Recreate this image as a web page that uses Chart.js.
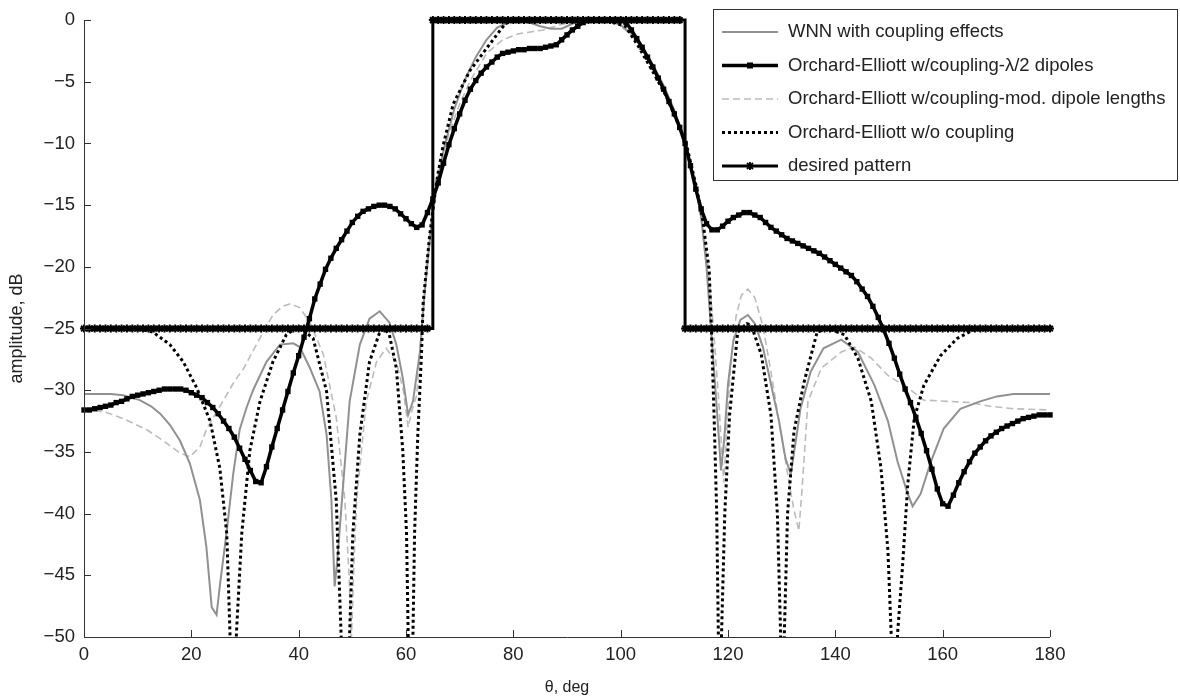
<!DOCTYPE html>
<html>
<head>
<meta charset="utf-8">
<script src="https://cdn.jsdelivr.net/npm/chart.js@4.4.0/dist/chart.umd.min.js"></script>
<style>
  body { margin: 0; background: #fff; }
</style>
</head>
<body>
<canvas id="chart" width="1180" height="697"></canvas>
<script>
// theta grid for the two curves that were sampled every degree
const thetaGrid = Array.from({ length: 181 }, (_, i) => i);

const xTicks = [0, 20, 40, 60, 80, 100, 120, 140, 160, 180];
const yTicks = [0, -5, -10, -15, -20, -25, -30, -35, -40, -45, -50];

// WNN with coupling effects
const wnnX = [0,5,7.3,10.4,12.5,14.2,16,17.9,19.7,21.6,22.8,23.8,24.7,25.3,26.6,27.8,29,30.3,31.5,34,
  36.5,39,40.2,42.1,43.9,45.2,46.1,46.7,47.2,48.3,49.5,51.4,53.2,55.1,56.9,58.2,59.4,60.4,61.3,62.6,
  63.5,64.5,65.5,67,69,71,73,75,77,79,81,83,85,87,89,91,93,96,98,100,
  102,104,106,108,110,112,113.5,115,116,117,118,118.7,119.3,120,121,122.3,123.7,125,126.5,128,
  129.5,130.7,131.7,132.5,133.5,135.4,137.8,141.1,144.2,147.3,149.8,151.6,153.5,154.4,155.9,157.8,160.2,163.3,167,170.1,
  173.2,180];
const wnnY = [-30.3,-30.3,-30.4,-30.8,-31.3,-31.9,-32.8,-34.1,-35.9,-38.9,-42.7,-47.6,-48.2,-45.9,-41.4,-36.8,-33.2,-31.4,-30.0,-27.7,
  -26.3,-26.2,-26.5,-28.2,-30.1,-33.6,-38.9,-45.9,-43.8,-37.6,-30.9,-26.3,-24.2,-23.6,-24.5,-26.3,-29.0,-32.0,-30.9,-26.9,
  -22,-17.5,-13.8,-10.5,-7.2,-4.8,-3.0,-1.6,-0.6,-0.2,-0.1,-0.2,-0.5,-0.7,-0.7,-0.3,0,0,0,-0.4,
  -1.1,-2.2,-3.6,-5.3,-7.3,-9.8,-12.5,-16,-20,-26,-32,-36.5,-34,-29.5,-26,-24.3,-23.9,-24.6,-26.5,-29.5,
  -32.5,-35.5,-36.8,-34.5,-31.5,-28.5,-26.6,-25.9,-26.9,-29.6,-32.5,-35.8,-38.4,-39.4,-38.4,-35.8,-33.1,-31.5,-30.9,-30.5,
  -30.3,-30.3];

// Orchard-Elliott w/coupling, lambda/2 dipoles (one value per degree, 0..180)
const halfWaveY = [
  -31.6,-31.6,-31.5,-31.4,-31.3,-31.2,-31.0,-30.9,-30.7,-30.5,
  -30.4,-30.3,-30.2,-30.1,-30.0,-29.9,-29.9,-29.9,-29.9,-30.0,
  -30.2,-30.4,-30.6,-31.0,-31.4,-31.9,-32.5,-33.1,-33.8,-34.7,
  -35.6,-36.5,-37.4,-37.5,-36.2,-34.6,-33.1,-31.6,-30.1,-28.6,
  -27.2,-25.7,-24.2,-22.6,-21.4,-20.2,-19.3,-18.5,-17.8,-17.1,
  -16.4,-15.9,-15.5,-15.3,-15.1,-15.0,-15.0,-15.1,-15.3,-15.7,
  -16.1,-16.5,-16.8,-16.6,-15.6,-14.5,-13.2,-11.6,-10.1,-8.8,
  -7.6,-6.5,-5.6,-4.9,-4.3,-3.8,-3.4,-3.0,-2.7,-2.6,
  -2.5,-2.4,-2.4,-2.3,-2.3,-2.3,-2.2,-2.1,-2.0,-1.6,
  -1.2,-0.8,-0.5,-0.2,0,0,0,0,0,0,
  0,-0.2,-0.8,-1.5,-2.2,-3.0,-3.8,-4.7,-5.6,-6.6,
  -7.6,-8.7,-10.0,-11.8,-13.7,-15.3,-16.5,-17.0,-17.0,-16.7,
  -16.3,-16.0,-15.8,-15.6,-15.6,-15.8,-16.0,-16.4,-16.8,-17.1,
  -17.4,-17.7,-17.9,-18.1,-18.3,-18.5,-18.7,-18.9,-19.2,-19.5,
  -19.8,-20.1,-20.4,-20.7,-21.2,-21.8,-22.4,-23.2,-24.1,-25.1,
  -26.2,-27.4,-28.7,-29.9,-31.0,-32.2,-33.5,-34.9,-36.4,-38.0,
  -39.2,-39.4,-38.5,-37.5,-36.6,-35.8,-35.1,-34.6,-34.1,-33.7,
  -33.4,-33.1,-32.9,-32.7,-32.5,-32.3,-32.2,-32.1,-32.0,-32.0,
  -32.0];

// Orchard-Elliott w/coupling, modified dipole lengths
const modX = [0,4.2,7.3,11.7,14.8,17.9,19.7,21.6,22.8,24.1,26,28,29.8,31.5,33.5,35.2,37,38.4,40.2,42.1,
  44.6,47,48.6,49.4,49.8,50.3,50.8,52.6,54.5,56.3,58.2,59.5,60.4,61.2,62,62.9,63.8,64.8,66,68,
  70,72,75,78,81,85.6,88.6,92.4,98,100,102,104,106,108,110,112,113.5,115,116.3,117.3,
  118.3,119.2,119.8,120.5,121.5,122.5,123.7,125,126.5,128,129.5,131,132.2,133.2,133.8,134.9,137.4,141.1,143.6,146.7,
  149.8,153.5,156.5,160.9,165.2,168.9,173.2,180];
const modY = [-31.5,-31.8,-32.3,-33.2,-34.1,-35.1,-35.4,-34.6,-33.2,-32.2,-30.8,-29.3,-28.2,-26.8,-25.2,-23.9,-23.2,-23.0,-23.3,-24.5,
  -27.1,-32.2,-38.9,-45,-50.5,-44,-38.9,-30.9,-27.7,-26.6,-27.7,-30,-33,-31.5,-30.4,-25,-20,-15.5,-12.5,-9.2,
  -6.8,-4.9,-2.7,-1.6,-1.1,-0.8,-0.4,0,0,-0.5,-1.2,-2.3,-3.7,-5.4,-7.4,-9.9,-12.5,-16,-20,-25,
  -31,-37.5,-33,-28,-24,-22.3,-21.8,-22.5,-24.8,-28.5,-32.5,-36.5,-39.5,-41.4,-38,-30.9,-28.2,-26.9,-26.5,-27.4,
  -28.8,-29.8,-30.8,-30.9,-31.0,-31.3,-31.5,-31.6];

// Orchard-Elliott w/o coupling (nulls run off the bottom of the plot)
const freeX = [0,10,12.9,16,18.5,21,23.5,25.3,26.6,27.2,27.8,28.4,29.4,30.9,32.8,35.2,37.7,40,42.7,45.2,
  47,47.9,48.7,49.5,50.1,51.4,53.2,55.1,56,56.9,58.2,59.4,60.1,60.4,60.85,61.3,61.6,62.2,62.9,63.2,
  64.4,65.7,66.9,68.8,71.9,75,76.9,78.5,80,97,100.9,103.4,105.9,108.4,110.9,112.2,114.1,115.3,116.5,116.9,
  117.4,117.9,118.2,118.5,118.8,119.4,120.3,121.8,123.5,124.3,126.2,128,129.2,129.8,130.15,130.5,131.1,132.3,134.2,136.6,
  138.5,141.7,144.2,146.7,148.5,149.8,150.4,151,151.6,152.5,153.5,154.7,156.5,159.6,162.7,165.8,168,180];
const freeY = [-25,-25,-25.3,-26.3,-27.7,-29.8,-32.5,-36.3,-41.6,-49.7,-60,-49.7,-41.6,-34.9,-30.9,-27.7,-25.5,-24.8,-25.8,-30.1,
  -38.9,-49.7,-60,-49.7,-41.6,-33.6,-27.7,-25.3,-25.0,-25.5,-28.2,-34.9,-41.6,-49.7,-60,-49.7,-41.6,-33.6,-26.9,-22.9,
  -17.5,-13.1,-10.2,-6.8,-4.1,-2.3,-1.2,-0.3,0,0,-0.5,-2.2,-4.1,-6.1,-8.6,-10,-13.5,-16.2,-20.3,-25,
  -32,-40,-49.7,-60,-49.7,-40,-32,-25.3,-24.6,-24.7,-27.1,-32.0,-40,-49.7,-60,-49.7,-40,-33.3,-29.3,-25.3,
  -25.0,-25.5,-27.4,-30.9,-36.3,-43.0,-49.7,-60,-49.7,-44.4,-37.6,-32.3,-29.6,-27.2,-25.8,-25.1,-25,-25];

// desired pattern (one value per degree, drawn as steps)
const desiredY = [
  -25,-25,-25,-25,-25,-25,-25,-25,-25,-25, -25,-25,-25,-25,-25,-25,-25,-25,-25,-25,
  -25,-25,-25,-25,-25,-25,-25,-25,-25,-25, -25,-25,-25,-25,-25,-25,-25,-25,-25,-25,
  -25,-25,-25,-25,-25,-25,-25,-25,-25,-25, -25,-25,-25,-25,-25,-25,-25,-25,-25,-25,
  -25,-25,-25,-25,-25,
  0,0,0,0,0,0,0,0,0,0, 0,0,0,0,0,0,0,0,0,0, 0,0,0,0,0,0,0,0,0,0, 0,0,0,0,0,0,0,0,0,0,
  0,0,0,0,0,0,0,
  -25,-25,-25,-25,-25,-25,-25,-25,-25,-25, -25,-25,-25,-25,-25,-25,-25,-25,-25,-25,
  -25,-25,-25,-25,-25,-25,-25,-25,-25,-25, -25,-25,-25,-25,-25,-25,-25,-25,-25,-25,
  -25,-25,-25,-25,-25,-25,-25,-25,-25,-25, -25,-25,-25,-25,-25,-25,-25,-25,-25,-25,
  -25,-25,-25,-25,-25,-25,-25,-25,-25];

const seriesNames = [
  "WNN with coupling effects",
  "Orchard-Elliott w/coupling-\u03bb/2 dipoles",
  "Orchard-Elliott w/coupling-mod. dipole lengths",
  "Orchard-Elliott w/o coupling",
  "desired pattern"
];

function pairs(xs, ys) {
  return xs.map((x, i) => ({ x: x, y: ys[i] }));
}

const font = "'Liberation Sans', Arial, Helvetica, sans-serif";

const sketchFrame = {
  id: 'sketchFrame',
  afterDraw(chart) {
    const ctx = chart.ctx;
    const area = chart.chartArea;
    const sx = chart.scales.x, sy = chart.scales.y;
    ctx.save();
    ctx.setLineDash([]);
    ctx.strokeStyle = '#333';
    ctx.lineWidth = 1;
    ctx.beginPath();
    ctx.moveTo(area.left + 0.5, area.top);
    ctx.lineTo(area.left + 0.5, area.bottom + 0.5);
    ctx.lineTo(area.right, area.bottom + 0.5);
    xTicks.forEach(v => {
      const px = Math.round(sx.getPixelForValue(v)) + 0.5;
      ctx.moveTo(px, area.bottom);
      ctx.lineTo(px, area.bottom - 7);
    });
    yTicks.forEach(v => {
      const py = Math.round(sy.getPixelForValue(v)) + 0.5;
      ctx.moveTo(area.left, py);
      ctx.lineTo(area.left + 7, py);
    });
    ctx.stroke();

    // axis titles
    ctx.fillStyle = '#222';
    ctx.textAlign = 'center';
    ctx.textBaseline = 'middle';
    ctx.font = '16px ' + font;
    ctx.fillText('\u03b8, deg', (area.left + area.right) / 2, 688);
    ctx.save();
    ctx.font = '18px ' + font;
    ctx.translate(17, (area.top + area.bottom) / 2);
    ctx.rotate(-Math.PI / 2);
    ctx.fillText('amplitude, dB', 0, 0);
    ctx.restore();

    // legend box
    const bx = 713.5, by = 9.5, bw = 464, bh = 171;
    ctx.fillStyle = '#fff';
    ctx.fillRect(bx, by, bw, bh);
    ctx.strokeStyle = '#333';
    ctx.lineWidth = 1;
    ctx.strokeRect(bx, by, bw, bh);
    const rows = [32, 65.5, 99, 132.5, 166];
    chart.data.datasets.forEach((ds, i) => {
      const y = rows[i];
      ctx.save();
      ctx.strokeStyle = ds.borderColor;
      ctx.lineWidth = ds.borderWidth;
      ctx.lineCap = 'butt';
      ctx.setLineDash(ds.borderDash || []);
      ctx.beginPath();
      ctx.moveTo(722, y);
      ctx.lineTo(778, y);
      ctx.stroke();
      ctx.setLineDash([]);
      if (ds.pointStyle === 'rect') {
        ctx.fillStyle = '#000';
        ctx.fillRect(747, y - 3, 6, 6);
      } else if (ds.pointStyle === 'star') {
        ctx.lineWidth = 1.8;
        ctx.beginPath();
        ctx.moveTo(750, y - 4); ctx.lineTo(750, y + 4);
        ctx.moveTo(750 - 3, y - 3); ctx.lineTo(750 + 3, y + 3);
        ctx.moveTo(750 - 3, y + 3); ctx.lineTo(750 + 3, y - 3);
        ctx.stroke();
      }
      ctx.fillStyle = '#222';
      ctx.font = '18.5px ' + font;
      ctx.textAlign = 'left';
      ctx.textBaseline = 'middle';
      ctx.fillText(seriesNames[i], 788, y);
      ctx.restore();
    });
    ctx.restore();
  }
};

const config = {
  type: 'line',
  data: {
    datasets: [
      {
        label: seriesNames[0],
        data: pairs(wnnX, wnnY),
        borderColor: 'rgb(145,145,145)',
        borderWidth: 2,
        pointRadius: 0,
        order: 4
      },
      {
        label: seriesNames[1],
        data: pairs(thetaGrid, halfWaveY),
        borderColor: '#000',
        backgroundColor: '#000',
        borderWidth: 3.5,
        pointStyle: 'rect',
        pointRadius: 3.8,
        pointBorderWidth: 0,
        clip: false,
        order: 1
      },
      {
        label: seriesNames[2],
        data: pairs(modX, modY),
        borderColor: 'rgb(188,188,188)',
        borderWidth: 1.6,
        borderDash: [7, 4],
        pointRadius: 0,
        order: 5
      },
      {
        label: seriesNames[3],
        data: pairs(freeX, freeY),
        borderColor: '#000',
        borderWidth: 3,
        borderDash: [3, 3],
        borderCapStyle: 'butt',
        pointRadius: 0,
        order: 3
      },
      {
        label: seriesNames[4],
        data: pairs(thetaGrid, desiredY),
        borderColor: '#000',
        backgroundColor: '#000',
        borderWidth: 3,
        stepped: 'before',
        pointStyle: 'star',
        pointRadius: 4,
        pointBorderWidth: 2,
        clip: false,
        order: 2
      }
    ]
  },
  options: {
    responsive: false,
    devicePixelRatio: 1,
    animation: false,
    layout: { padding: { top: 17, right: 130, bottom: 0, left: 0 } },
    plugins: {
      legend: { display: false },
      tooltip: { enabled: false }
    },
    scales: {
      x: {
        type: 'linear',
        min: 0,
        max: 180,
        afterFit(scale) { scale.height = 60; },
        afterBuildTicks(scale) { scale.ticks = xTicks.map(v => ({ value: v })); },
        grid: { display: false, drawTicks: false },
        border: { display: false },
        ticks: { color: '#222', font: { family: font, size: 18.5 }, padding: 7, maxRotation: 0 }
      },
      y: {
        type: 'linear',
        min: -50,
        max: 0,
        afterFit(scale) { scale.width = 84; },
        afterBuildTicks(scale) { scale.ticks = yTicks.map(v => ({ value: v })); },
        grid: { display: false, drawTicks: false },
        border: { display: false },
        ticks: {
          color: '#222',
          font: { family: font, size: 18.5 },
          padding: 9,
          callback: v => String(v).replace('-', '\u2212')
        }
      }
    }
  },
  plugins: [sketchFrame]
};

new Chart(document.getElementById('chart'), config);
</script>
</body>
</html>
